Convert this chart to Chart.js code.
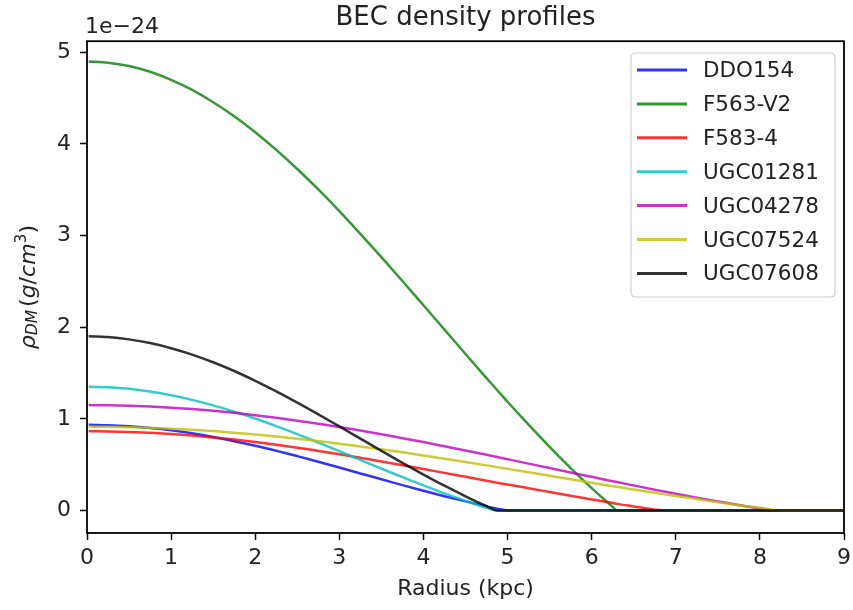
<!DOCTYPE html>
<html><head><meta charset="utf-8">
<script src="https://cdn.jsdelivr.net/npm/chart.js@4.4.0/dist/chart.umd.min.js"></script>
<style>html,body{margin:0;padding:0;background:#fff}#wrap{width:853px;height:610px}</style>
</head><body><div id="wrap"><canvas id="c" width="853" height="610"></canvas></div>
<script>
// Radius grid (kpc)
const radius = [0.02,0.25,0.5,0.75,1,1.25,1.5,1.75,2,2.25,2.5,2.75,3,3.25,3.5,3.75,4,4.25,4.5,4.75,4.875,5,5.25,5.5,5.75,6,6.25,6.3,6.5,6.75,7,7.25,7.5,7.75,8,8.25,8.5,8.75,9];
const galaxies = ['DDO154','F563-V2','F583-4','UGC01281','UGC04278','UGC07524','UGC07608'];
// density values in units of 1e-24 g/cm^3
const rhoDDO154   = [0.935,0.931,0.920,0.901,0.875,0.842,0.801,0.756,0.706,0.652,0.593,0.532,0.469,0.404,0.341,0.276,0.215,0.155,0.099,0.045,0.020,0,0,0,0,0,0,0,0,0,0,0,0,0,0,0,0,0,0];
const rhoF563V2   = [4.900,4.887,4.850,4.787,4.699,4.589,4.455,4.302,4.127,3.935,3.726,3.503,3.267,3.019,2.765,2.504,2.239,1.973,1.707,1.444,1.315,1.186,0.936,0.694,0.463,0.244,0.039,0,0,0,0,0,0,0,0,0,0,0,0];
const rhoF5834    = [0.865,0.863,0.857,0.848,0.835,0.818,0.797,0.774,0.747,0.717,0.685,0.650,0.614,0.575,0.534,0.493,0.452,0.410,0.368,0.325,0.303,0.284,0.243,0.201,0.160,0.120,0.081,0.072,0.044,0.009,0,0,0,0,0,0,0,0,0];
const rhoUGC01281 = [1.350,1.344,1.327,1.297,1.257,1.207,1.147,1.079,1.003,0.920,0.833,0.741,0.647,0.552,0.457,0.363,0.273,0.186,0.104,0.028,0,0,0,0,0,0,0,0,0,0,0,0,0,0,0,0,0,0,0];
const rhoUGC04278 = [1.150,1.148,1.143,1.134,1.122,1.106,1.087,1.065,1.039,1.011,0.980,0.946,0.910,0.872,0.832,0.789,0.746,0.700,0.654,0.607,0.583,0.559,0.511,0.463,0.414,0.367,0.319,0.310,0.273,0.227,0.183,0.140,0.099,0.059,0.022,0,0,0,0];
const rhoUGC07524 = [0.915,0.914,0.909,0.902,0.893,0.880,0.866,0.849,0.829,0.807,0.783,0.757,0.729,0.698,0.667,0.634,0.600,0.565,0.528,0.492,0.473,0.454,0.416,0.378,0.340,0.303,0.265,0.258,0.229,0.193,0.157,0.124,0.090,0.058,0.029,0,0,0,0];
const rhoUGC07608 = [1.900,1.892,1.867,1.827,1.771,1.701,1.617,1.522,1.415,1.300,1.177,1.049,0.917,0.784,0.651,0.519,0.392,0.270,0.155,0.048,0,0,0,0,0,0,0,0,0,0,0,0,0,0,0,0,0,0,0];
const seriesValues = [rhoDDO154,rhoF563V2,rhoF5834,rhoUGC01281,rhoUGC04278,rhoUGC07524,rhoUGC07608];
const lineColors = ['rgba(0,0,255,0.8)','rgba(0,128,0,0.8)','rgba(255,0,0,0.8)','rgba(0,191,191,0.8)','rgba(191,0,191,0.8)','rgba(191,191,0,0.8)','rgba(0,0,0,0.8)'];
const xTicks = [0,1,2,3,4,5,6,7,8,9];
const yTicks = [0,1,2,3,4,5];

const FONT = '"DejaVu Sans", sans-serif';
Chart.defaults.font.family = FONT;
Chart.defaults.color = '#222';

const datasets = galaxies.map((g,i)=>({
  label: g,
  data: radius.map((r,j)=>({x:r, y:seriesValues[i][j]})),
  borderColor: lineColors[i],
  backgroundColor: lineColors[i],
  borderWidth: 2.5,
  pointRadius: 0,
  fill: false,
  cubicInterpolationMode: 'monotone',
  order: galaxies.length - i
}));

const extras = {
  id: 'extras',
  afterDraw(chart){
    const ctx = chart.ctx, a = chart.chartArea;
    ctx.save();
    // frame
    ctx.strokeStyle = '#000'; ctx.lineWidth = 1.8;
    ctx.strokeRect(a.left, a.top, a.right - a.left, a.bottom - a.top);
    // legend
    const bx = 631, by = 53, bw = 204, bh = 244, rad = 5;
    ctx.beginPath();
    ctx.moveTo(bx+rad,by); ctx.lineTo(bx+bw-rad,by); ctx.quadraticCurveTo(bx+bw,by,bx+bw,by+rad);
    ctx.lineTo(bx+bw,by+bh-rad); ctx.quadraticCurveTo(bx+bw,by+bh,bx+bw-rad,by+bh);
    ctx.lineTo(bx+rad,by+bh); ctx.quadraticCurveTo(bx,by+bh,bx,by+bh-rad);
    ctx.lineTo(bx,by+rad); ctx.quadraticCurveTo(bx,by,bx+rad,by); ctx.closePath();
    ctx.fillStyle = 'rgba(255,255,255,0.8)'; ctx.fill();
    ctx.strokeStyle = '#d0d0d0'; ctx.lineWidth = 1.2; ctx.stroke();
    ctx.font = '21.5px ' + FONT; ctx.textBaseline = 'middle'; ctx.textAlign = 'left';
    chart.data.datasets.forEach((ds,i)=>{
      const y = 70 + i*33.9;
      ctx.strokeStyle = ds.borderColor; ctx.lineWidth = 3;
      ctx.beginPath(); ctx.moveTo(637,y); ctx.lineTo(687,y); ctx.stroke();
      ctx.fillStyle = '#222'; ctx.fillText(ds.label, 703, y + 1.5);
    });
    // offset text
    ctx.font = '22px ' + FONT; ctx.textBaseline = 'alphabetic'; ctx.fillStyle = '#222';
    ctx.fillText('1e\u221224', 85, 33);
    // y axis label (math text)
    const fs = 22, ss = 15.5;
    const it = s => 'italic ' + s + 'px ' + FONT, rg = s => s + 'px ' + FONT;
    const parts = [
      {t:'\u03c1', f:it(fs), dy:0},
      {t:'DM', f:it(ss), dy:2.5},
      {t:'', f:rg(fs), dy:0, gap:3},
      {t:'(', f:rg(fs), dy:0},
      {t:'g', f:it(fs), dy:0},
      {t:'/', f:rg(fs), dy:0},
      {t:'cm', f:it(fs), dy:0},
      {t:'3', f:rg(ss), dy:-8.5},
      {t:')', f:rg(fs), dy:0}
    ];
    let total = 0;
    parts.forEach(p=>{ ctx.font = p.f; p.w = ctx.measureText(p.t).width + (p.gap||0); total += p.w; });
    ctx.translate(34.5, (a.top + a.bottom)/2);
    ctx.rotate(-Math.PI/2);
    let x = -total/2;
    parts.forEach(p=>{ ctx.font = p.f; ctx.fillText(p.t, x, p.dy); x += p.w; });
    ctx.restore();
  }
};

new Chart(document.getElementById('c'), {
  type: 'line',
  data: { datasets },
  options: {
    responsive: false,
    animation: false,
    devicePixelRatio: 1,
    layout: { padding: { left: 0, right: 9, top: 0, bottom: 0 } },
    plugins: {
      legend: { display: false },
      tooltip: { enabled: false },
      title: { display: true, text: 'BEC density profiles', fullSize: false, color: '#222',
               font: { size: 26, weight: 'normal' }, padding: { top: 3, bottom: 7 } }
    },
    scales: {
      x: {
        type: 'linear', min: 0, max: 9,
        afterBuildTicks: s => { s.ticks = xTicks.map(v=>({value:v})); },
        afterFit: s => { s.height = 77; s.paddingLeft = 0; s.paddingRight = 0; },
        ticks: { font: { size: 22 }, color: '#222', padding: 5, maxRotation: 0, autoSkip: false, callback: v => String(v) },
        grid: { display: true, drawOnChartArea: false, drawTicks: true, tickLength: 7, tickColor: '#000', tickWidth: 1.5 },
        border: { display: false },
        title: { display: true, text: 'Radius (kpc)', color: '#222', font: { size: 22 }, padding: { top: 0, bottom: 8 } }
      },
      y: {
        type: 'linear', min: -0.246, max: 5.121,
        afterBuildTicks: s => { s.ticks = yTicks.map(v=>({value:v})); },
        afterFit: s => { s.width = 87; s.paddingTop = 0; s.paddingBottom = 0; },
        ticks: { font: { size: 22 }, color: '#222', padding: 9, callback: v => String(v) },
        grid: { display: true, drawOnChartArea: false, drawTicks: true, tickLength: 7, tickColor: '#000', tickWidth: 1.5 },
        border: { display: false }
      }
    }
  },
  plugins: [extras]
});
</script></body></html>
